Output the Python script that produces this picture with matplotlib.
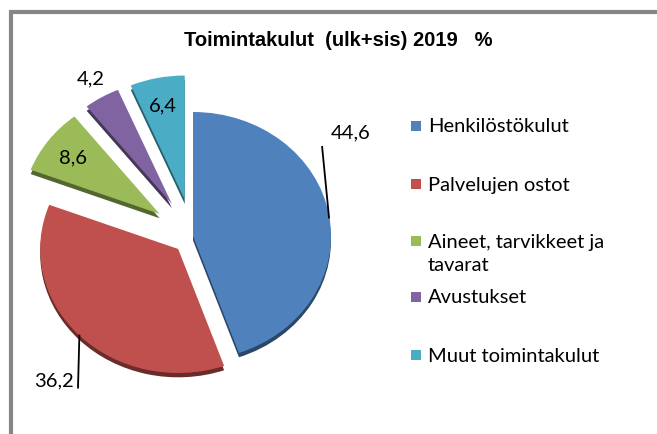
import numpy as np
import matplotlib.pyplot as plt
from matplotlib.patches import Rectangle
from matplotlib.colors import to_rgb

labels = ['Henkilöstökulut', 'Palvelujen ostot', 'Aineet, tarvikkeet ja\ntavarat',
          'Avustukset', 'Muut toimintakulut']
values = [44.6, 36.2, 8.6, 4.2, 6.4]
value_txt = ['44,6', '36,2', '8,6', '4,2', '6,4']
colors = ['#4F81BD', '#C0504D', '#9BBB59', '#8064A2', '#4BACC6']
explode = [0.0, 0.15, 0.3, 0.3, 0.3]

W, H = 657, 435
fig = plt.figure(figsize=(W / 100, H / 100), dpi=100)
fig.patch.set_facecolor('white')

# outer chart border (cropped on right/bottom)
fig.patches.append(Rectangle((10.5 / W, -0.1), 1.2, (H - 12.5) / H + 0.1,
                             transform=fig.transFigure, fill=False,
                             edgecolor='#868686', linewidth=3))

fig.text(338 / W, 1 - 40 / H, 'Toimintakulut  (ulk+sis) 2019   %',
         ha='center', va='center', fontsize=14.5, fontweight='bold',
         family='Liberation Sans')

# pie axes: centre at (193, 237) px, rx=138 px, ry=124 px
a, b = 1.35, 1.45
axw, axh = 276 * a, 248 * b
ax = fig.add_axes([(193 - axw / 2) / W, (H - 237 - axh / 2) / H, axw / W, axh / H])

dark = [tuple(c * 0.55 for c in to_rgb(col)) for col in colors]
ax.pie(values, explode=explode, colors=dark, startangle=90, counterclock=False,
       center=(0, -0.035), wedgeprops=dict(linewidth=0))
wedges, _ = ax.pie(values, explode=explode, colors=colors, startangle=90,
                   counterclock=False, wedgeprops=dict(linewidth=0))
ax.set_aspect('auto')
ax.set_xlim(-a, a)
ax.set_ylim(-b, b)
ax.axis('off')

fs = 14.5
fam = ['Lato', 'DejaVu Sans']
for i, w in enumerate(wedges):
    ang = np.deg2rad((w.theta1 + w.theta2) / 2)
    d = np.array([np.cos(ang), np.sin(ang)])
    c = np.array(w.center)
    if i == 0:
        p = c + d
        ax.plot([p[0], p[0] - 0.05], [p[1] - 0.02, p[1] + 0.55], color='black', lw=1.3)
        ax.text(p[0] + 0.01, p[1] + 0.67, value_txt[i], ha='left', va='center',
                fontsize=fs, family=fam)
    elif i == 1:
        p = c + d
        ax.plot([p[0], p[0] - 0.01], [p[1], p[1] - 0.42], color='black', lw=1.3)
        ax.text(p[0] - 0.04, p[1] - 0.36, value_txt[i], ha='right', va='center',
                fontsize=fs, family=fam)
    elif i == 3:
        p = c + 1.15 * d
        ax.text(p[0], p[1] + 0.03, value_txt[i], ha='center', va='center',
                fontsize=fs, family=fam)
    else:
        p = c + 0.78 * d
        ax.text(p[0], p[1], value_txt[i], ha='center', va='center',
                fontsize=fs, family=fam)

# legend
ys = [127, 185, 242, 298, 356]
for lab, col, y in zip(labels, colors, ys):
    fig.patches.append(Rectangle((411 / W, 1 - (y + 5) / H), 10 / W, 10 / H,
                                 transform=fig.transFigure, facecolor=col,
                                 edgecolor='none'))
    if '\n' in lab:
        fig.text(428 / W, 1 - (y - 8) / H, lab, ha='left', va='top',
                 fontsize=fs, family=fam, linespacing=1.42)
    else:
        fig.text(428 / W, 1 - y / H, lab, ha='left', va='center',
                 fontsize=fs, family=fam)

fig.savefig('out.png', dpi=100, facecolor='white')
